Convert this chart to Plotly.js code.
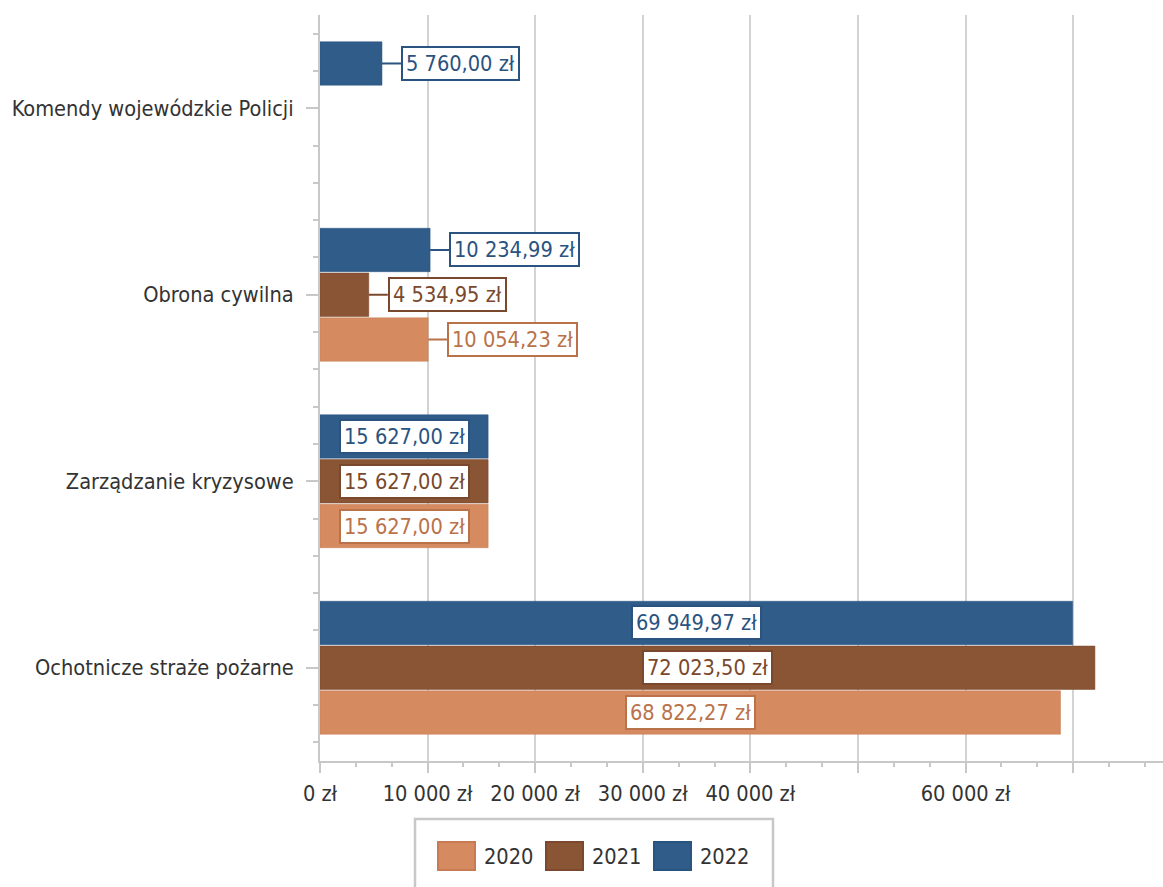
<!DOCTYPE html>
<html>
<head>
<meta charset="utf-8">
<script src="https://cdn.plot.ly/plotly-3.0.1.min.js"></script>
<style>
  html, body { margin: 0; padding: 0; background: #fff; }
  #chart { width: 1163px; height: 887px; }
</style>
</head>
<body>
<div id="chart"></div>
<script>
// ---- data (categories listed top to bottom) ----
const categories = ['Komendy wojewódzkie Policji', 'Obrona cywilna', 'Zarządzanie kryzysowe', 'Ochotnicze straże pożarne'];
const years = ['2020', '2021', '2022'];
const values2020 = [null, 10054.23, 15627.00, 68822.27];
const values2021 = [null, 4534.95, 15627.00, 72023.50];
const values2022 = [5760.00, 10234.99, 15627.00, 69949.97];
const xTickVals = [0, 10000, 20000, 30000, 40000, 50000, 60000, 70000];
const xTickText = ['0 zł', '10 000 zł', '20 000 zł', '30 000 zł', '40 000 zł', '', '60 000 zł', ''];

// ---- styles ----
const barColors = ['#D68A5F', '#8A5535', '#2F5C89'];
const barLines = ['#C57C52', '#7A482C', '#2A5480'];
const labelColors = ['#B9724A', '#7A482C', '#2A5380'];
const FONT = '"DejaVu Sans Condensed", "DejaVu Sans", sans-serif';
const FS = 21.6;
const W = 1163, H = 887;
const M = { l: 320, r: 0, t: 15, b: 126 };
const plotW = W - M.l - M.r, plotH = H - M.t - M.b;
const bargap = 0.28, bargroupgap = 0.03;
const insideThreshold = 15000;
const connectorPx = 19;

const series = [values2020, values2021, values2022];
const yPos = categories.map((c, i) => categories.length - 1 - i);

function fmt(v) {
  const parts = v.toFixed(2).split('.');
  return parts[0].replace(/\B(?=(\d{3})+(?!\d))/g, ' ') + ',' + parts[1] + ' zł';
}

const traces = series.map((vals, k) => ({
  type: 'bar',
  orientation: 'h',
  name: years[k],
  x: vals,
  y: yPos,
  marker: { color: barColors[k], line: { color: barLines[k], width: 0.5 } },
  hoverinfo: 'x+name',
  showlegend: false
}));

const annotations = [];
const shapes = [];
const slot = (1 - bargap) / series.length;
series.forEach((vals, k) => {
  vals.forEach((v, i) => {
    if (v === null || v === undefined) return;
    const yc = yPos[i] + (k - (series.length - 1) / 2) * slot;
    const inside = v >= insideThreshold;
    annotations.push({
      xref: 'x', yref: 'y',
      x: inside ? v / 2 : v,
      y: yc,
      xanchor: inside ? 'center' : 'left',
      yanchor: 'middle',
      xshift: inside ? 0 : connectorPx,
      text: fmt(v),
      showarrow: false,
      font: { family: FONT, size: FS, color: labelColors[k] },
      bgcolor: '#ffffff',
      bordercolor: labelColors[k],
      borderwidth: 2,
      borderpad: 3
    });
    if (!inside) {
      shapes.push({
        type: 'line', xref: 'x', yref: 'y', xsizemode: 'pixel', xanchor: v,
        x0: 0, x1: connectorPx, y0: yc, y1: yc,
        line: { color: labelColors[k], width: 2 }
      });
    }
  });
});

// ---- custom legend (box, swatches, labels) ----
const px = x => (x - M.l) / plotW;
const py = y => (H - M.b - y) / plotH;
shapes.push({
  type: 'rect', xref: 'paper', yref: 'paper',
  x0: px(415), x1: px(773), y0: py(819), y1: py(900),
  line: { color: '#C8C8C8', width: 2.5 }, fillcolor: 'rgba(0,0,0,0)'
});
years.forEach((yr, k) => {
  const x0 = 438 + k * 108;
  shapes.push({
    type: 'rect', xref: 'paper', yref: 'paper',
    x0: px(x0), x1: px(x0 + 37), y0: py(870), y1: py(842),
    fillcolor: barColors[k], line: { color: barLines[k], width: 2 }
  });
  annotations.push({
    xref: 'paper', yref: 'paper', x: px(x0 + 44), y: py(856),
    xanchor: 'left', yanchor: 'middle', showarrow: false,
    text: yr, font: { family: FONT, size: FS, color: '#333333' }
  });
});

const layout = {
  width: W, height: H,
  margin: M,
  paper_bgcolor: '#ffffff', plot_bgcolor: '#ffffff',
  barmode: 'group', bargap: bargap, bargroupgap: bargroupgap,
  font: { family: FONT, size: FS, color: '#333333' },
  showlegend: false,
  xaxis: {
    range: [0, 78350],
    tickmode: 'array', tickvals: xTickVals, ticktext: xTickText,
    showgrid: true, gridcolor: '#D3D3D3', gridwidth: 2,
    showline: true, linecolor: '#C8C8C8', linewidth: 2,
    ticks: 'outside', ticklen: 10, tickwidth: 2, tickcolor: '#C8C8C8',
    minor: { tickmode: 'linear', tick0: 0, dtick: 10000 / 3, ticks: 'outside', ticklen: 4, tickwidth: 2, tickcolor: '#C8C8C8', showgrid: false },
    tickfont: { family: FONT, size: FS, color: '#333333' },
    ticklabelstandoff: 2,
    zeroline: false, fixedrange: true
  },
  yaxis: {
    range: [-0.5, 3.5],
    tickmode: 'array', tickvals: yPos, ticktext: categories,
    showgrid: false,
    showline: true, linecolor: '#C8C8C8', linewidth: 2,
    ticks: 'outside', ticklen: 12, tickwidth: 2, tickcolor: '#C8C8C8',
    minor: { tickmode: 'linear', tick0: 0, dtick: 0.2, ticks: 'outside', ticklen: 5, tickwidth: 2, tickcolor: '#C8C8C8', showgrid: false },
    tickfont: { family: FONT, size: FS, color: '#333333' },
    ticklabelstandoff: 8,
    zeroline: false, fixedrange: true
  },
  annotations: annotations,
  shapes: shapes
};

Plotly.newPlot('chart', traces, layout, { displayModeBar: false, staticPlot: false });
</script>
</body>
</html>
